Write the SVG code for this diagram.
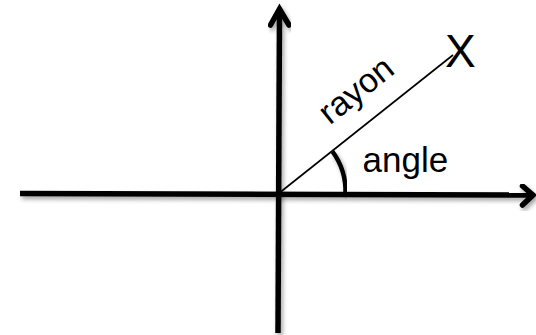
<svg xmlns="http://www.w3.org/2000/svg" width="536" height="335" viewBox="0 0 536 335">
  <style>
    .axis { fill: none; stroke: #000; stroke-width: 5.5; stroke-linecap: butt; stroke-linejoin: miter; }
    .head { fill: none; stroke: #000; stroke-width: 5.5; stroke-linecap: round; stroke-linejoin: miter; }
    .ray { fill: none; stroke: #000; stroke-width: 1.6; }
    .arc { fill: none; stroke: #000; stroke-width: 4.5; }
    .lbl { font-family: "Liberation Sans", Arial, sans-serif; fill: #000; }
  </style>
  <defs>
    <filter id="shadow" x="-10%" y="-10%" width="120%" height="140%">
      <feDropShadow dx="2" dy="3" stdDeviation="2" flood-color="#000" flood-opacity="0.35"/>
    </filter>
  </defs>
  <rect width="536" height="335" fill="#fff"/>
  <g id="connectors">
    <g id="x-axis" filter="url(#shadow)">
      <line class="axis" x1="20" y1="193.5" x2="533" y2="195"/>
      <polyline class="head" points="522.5,186 533,195 522.5,205"/>
    </g>
    <g id="y-axis" filter="url(#shadow)">
      <line class="axis" x1="278" y1="333" x2="279.5" y2="9"/>
      <polyline class="head" points="270.5,25 279.5,9 289,25"/>
    </g>
    <line id="ray" class="ray" x1="278" y1="194" x2="453" y2="55"/>
    <path id="angle-arc" class="arc" d="M 332.5 151.5 A 68 68 0 0 1 345.5 194" filter="url(#shadow)"/>
  </g>
  <g id="label-x">
    <text class="lbl" x="445" y="67" font-size="46">X</text>
  </g>
  <g id="label-rayon">
    <text class="lbl" font-size="34" text-anchor="middle" transform="translate(363,99) rotate(-38.7)">rayon</text>
  </g>
  <g id="label-angle">
    <text class="lbl" x="362.5" y="172" font-size="35">angle</text>
  </g>
</svg>
